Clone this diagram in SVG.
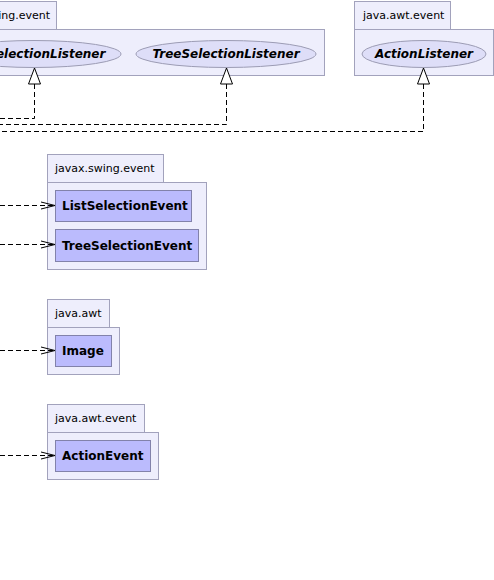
<svg xmlns="http://www.w3.org/2000/svg" width="494" height="580" viewBox="0 0 494 580">
<style>
.pkg{fill:#eeeefc;stroke:#a2a2bc;stroke-width:1}
.cls{fill:#bbbbfd;stroke:#8282aa;stroke-width:1}
.ifc{fill:#dedef8;stroke:#9c9cb4;stroke-width:1}
.pt{font-family:"DejaVu Sans",sans-serif;font-size:11px;fill:#000}
.ct{font-family:"DejaVu Sans",sans-serif;font-size:12px;font-weight:bold;fill:#000}
.it{font-family:"DejaVu Sans",sans-serif;font-size:12px;font-weight:bold;font-style:italic;fill:#000;text-anchor:middle}
.dep{fill:none;stroke:#000;stroke-width:1;stroke-dasharray:5,3}
</style>
<defs>
<marker id="open" markerUnits="userSpaceOnUse" orient="auto" refX="0" refY="0" overflow="visible" markerWidth="16" markerHeight="10">
<path d="M-14,-3.5 L0,0 L-14,3.5" fill="none" stroke="#000" stroke-width="1"/>
</marker>
<marker id="tri" markerUnits="userSpaceOnUse" orient="auto" refX="0" refY="0" overflow="visible" markerWidth="18" markerHeight="14">
<path d="M0,0 L16,-6 L16,6 Z" fill="#fff" stroke="#000" stroke-width="1"/>
</marker>
</defs>
<rect width="494" height="580" fill="#fff"/>

<g id="pkg-javax-swing-event-top">
<rect class="pkg" x="-58.5" y="1.5" width="115" height="28"/>
<rect class="pkg" x="-58.5" y="29.5" width="383" height="46"/>
<text class="pt" x="50" y="19" text-anchor="end">javax.swing.event</text>
</g>
<g id="ListSelectionListener">
<ellipse class="ifc" cx="34" cy="54" rx="87" ry="13.5"/>
<text class="it" x="34" y="58">ListSelectionListener</text>
</g>
<g id="TreeSelectionListener">
<ellipse class="ifc" cx="226" cy="54" rx="90" ry="13.5"/>
<text class="it" x="226" y="58">TreeSelectionListener</text>
</g>

<g id="pkg-java-awt-event-top">
<rect class="pkg" x="354.5" y="1.5" width="96" height="28"/>
<rect class="pkg" x="354.5" y="29.5" width="139" height="46"/>
<text class="pt" x="363" y="19">java.awt.event</text>
</g>
<g id="ActionListener">
<ellipse class="ifc" cx="424" cy="54" rx="62" ry="13.5"/>
<text class="it" x="424" y="58">ActionListener</text>
</g>

<g id="pkg-javax-swing-event">
<rect class="pkg" x="47.5" y="154.5" width="116" height="28"/>
<rect class="pkg" x="47.5" y="182.5" width="159" height="87"/>
<text class="pt" x="55" y="172">javax.swing.event</text>
</g>
<g id="ListSelectionEvent">
<rect class="cls" x="55.5" y="190.5" width="136" height="31"/>
<text class="ct" x="62" y="210">ListSelectionEvent</text>
</g>
<g id="TreeSelectionEvent">
<rect class="cls" x="55.5" y="229.5" width="143" height="32"/>
<text class="ct" x="62" y="249.5">TreeSelectionEvent</text>
</g>

<g id="pkg-java-awt">
<rect class="pkg" x="47.5" y="299.5" width="62" height="28"/>
<rect class="pkg" x="47.5" y="327.5" width="72" height="47"/>
<text class="pt" x="55" y="317">java.awt</text>
</g>
<g id="Image">
<rect class="cls" x="55.5" y="335.5" width="56" height="31"/>
<text class="ct" x="62" y="355">Image</text>
</g>

<g id="pkg-java-awt-event">
<rect class="pkg" x="47.5" y="404.5" width="97" height="28"/>
<rect class="pkg" x="47.5" y="432.5" width="111" height="47"/>
<text class="pt" x="55" y="422">java.awt.event</text>
</g>
<g id="ActionEvent">
<rect class="cls" x="55.5" y="440.5" width="95" height="31"/>
<text class="ct" x="62" y="460">ActionEvent</text>
</g>

<g id="connectors">
<path class="dep" d="M0,205.5 H55" marker-end="url(#open)"/>
<path class="dep" d="M0,244.5 H55" marker-end="url(#open)"/>
<path class="dep" d="M0,350.5 H55" marker-end="url(#open)"/>
<path class="dep" d="M0,455.5 H55" marker-end="url(#open)"/>
<path class="dep" d="M34.5,68 V118.5 H0" marker-start="url(#tri)"/>
<path class="dep" d="M226.5,68 V124.5 H0" marker-start="url(#tri)"/>
<path class="dep" d="M423.5,68 V131.5 H0" marker-start="url(#tri)"/>
</g>
</svg>
